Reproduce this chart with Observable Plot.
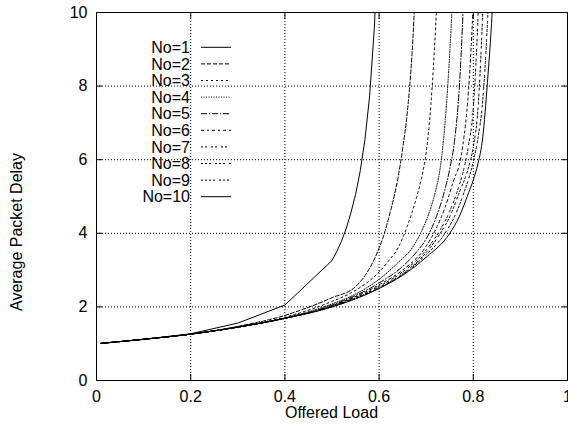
<!DOCTYPE html>
<html><head><meta charset="utf-8">
<script src="https://cdn.jsdelivr.net/npm/d3@7"></script>
<script src="https://cdn.jsdelivr.net/npm/@observablehq/plot@0.6"></script>
<style>
body{margin:0;background:#fff}
#wrap{position:relative;width:568px;height:424px;overflow:hidden}
#wrap svg{position:absolute;left:0;top:0}
</style>
</head><body><div id="wrap"></div>
<script>
const series = ["No=1","No=2","No=3","No=4","No=5","No=6","No=7","No=8","No=9","No=10"];
const xTicks = [0,0.2,0.4,0.6,0.8,1];
const xTickLabels = ["0","0.2","0.4","0.6","0.8","1"];
const yTicks = [0,2,4,6,8,10];
const yTickLabels = ["0","2","4","6","8","10"];
const xTitle = "Offered Load";
const yTitle = "Average Packet Delay";

const load1 = [0.01,0.1,0.2,0.3,0.4,0.5,0.51,0.52,0.53,0.54,0.55,0.56,0.57,0.58,0.59,0.6];
const delay1 = [1.01,1.12,1.27,1.56,2.05,3.26,3.5,3.78,4.12,4.55,5.05,5.7,6.55,7.75,9.6,12.5];
const load2 = [0.01,0.1,0.2,0.3,0.4,0.5,0.55,0.57,0.59,0.6,0.61,0.62,0.63,0.64,0.65,0.66,0.67,0.68];
const delay2 = [1.01,1.12,1.26,1.47,1.77,2.25,2.55,2.85,3.3,3.6,3.95,4.4,4.9,5.5,6.3,7.3,8.9,11.5];
const load3 = [0.01,0.1,0.2,0.3,0.4,0.5,0.55,0.6,0.62,0.64,0.66,0.68,0.69,0.7,0.71,0.72,0.73];
const delay3 = [1.01,1.12,1.26,1.46,1.72,2.15,2.45,2.95,3.25,3.6,4.2,5.0,5.5,6.2,7.5,9.6,12.5];
const load4 = [0.01,0.1,0.2,0.3,0.4,0.5,0.55,0.6,0.64,0.67,0.69,0.71,0.72,0.73,0.74,0.75,0.76];
const delay4 = [1.01,1.12,1.26,1.45,1.70,2.08,2.35,2.75,3.2,3.6,4.05,4.7,5.15,5.8,7.0,8.9,11.5];
const load5 = [0.01,0.1,0.2,0.3,0.4,0.5,0.6,0.65,0.68,0.7,0.72,0.74,0.75,0.76,0.77,0.78];
const delay5 = [1.01,1.12,1.26,1.45,1.69,2.05,2.65,3.1,3.5,3.85,4.4,5.2,5.75,6.5,7.9,10.5];
const load6 = [0.01,0.1,0.2,0.3,0.4,0.5,0.6,0.65,0.7,0.72,0.74,0.76,0.77,0.78,0.79,0.8,0.81];
const delay6 = [1.01,1.12,1.26,1.45,1.69,2.03,2.6,3.0,3.65,4.1,4.7,5.5,5.85,6.6,7.9,10.3,14];
const load7 = [0.01,0.1,0.2,0.3,0.4,0.5,0.6,0.65,0.7,0.73,0.75,0.77,0.78,0.79,0.8,0.81,0.82];
const delay7 = [1.01,1.12,1.26,1.45,1.69,2.02,2.56,2.95,3.55,4.1,4.6,5.3,5.75,6.4,7.4,9.9,14];
const load8 = [0.01,0.1,0.2,0.3,0.4,0.5,0.6,0.65,0.7,0.73,0.75,0.77,0.79,0.8,0.81,0.82,0.83];
const delay8 = [1.01,1.12,1.26,1.45,1.69,2.01,2.53,2.9,3.48,4.0,4.45,5.1,5.8,6.35,7.4,10.0,14];
const load9 = [0.01,0.1,0.2,0.3,0.4,0.5,0.6,0.65,0.7,0.74,0.76,0.78,0.8,0.81,0.82,0.83,0.84];
const delay9 = [1.01,1.12,1.26,1.45,1.69,2.0,2.51,2.88,3.42,4.0,4.45,5.1,5.95,6.6,7.6,9.7,13];
const load10 = [0.01,0.1,0.2,0.3,0.4,0.5,0.6,0.65,0.7,0.75,0.77,0.79,0.8,0.81,0.82,0.83,0.84,0.85];
const delay10 = [1.01,1.12,1.26,1.45,1.69,2.0,2.5,2.86,3.35,4.0,4.45,5.1,5.45,5.9,6.6,8.1,10.0,13];

const loads = [load1,load2,load3,load4,load5,load6,load7,load8,load9,load10];
const delays = [delay1,delay2,delay3,delay4,delay5,delay6,delay7,delay8,delay9,delay10];
const dashes = [null,"4,2","2,3","1,1.5","6,2,1,2","3,3,2,3","2,2,2,4","2,2,2,2,2,4","2,2,2,2,2,2,2,4",null];

const rows = [];
series.forEach((s,i) => loads[i].forEach((x,j) => rows.push({series:s, load:x, delay:delays[i][j]})));

const W = 568, H = 424, ML = 96, MR = 1, MT = 12, MB = 44;
const font = "'Liberation Sans', Arial, Helvetica, sans-serif";

const plot = Plot.plot({
  width: W, height: H,
  marginLeft: ML, marginRight: MR, marginTop: MT, marginBottom: MB,
  style: {fontFamily: font, fontSize: "16px", background: "#fff", color: "#000", overflow: "visible"},
  x: {domain: [0,1]},
  y: {domain: [0,10]},
  marks: [
    Plot.gridX(xTicks, {stroke: "#000", strokeOpacity: 1, strokeDasharray: "1,2"}),
    Plot.gridY(yTicks, {stroke: "#000", strokeOpacity: 1, strokeDasharray: "1,2"}),
    ...series.map((s,i) => Plot.line(rows.filter(r => r.series === s), {
      x: "load", y: "delay", stroke: "#000", strokeWidth: 1,
      curve: i === 0 ? "linear" : "monotone-x",
      strokeDasharray: dashes[i] || undefined, clip: true
    })),
    Plot.frame({stroke: "#000"}),
    Plot.axisX(xTicks, {anchor: "bottom", tickSize: -6, tickPadding: 16, tickFormat: (d,i) => xTickLabels[i], label: null}),
    Plot.axisX(xTicks, {anchor: "top", tickSize: -6, tickFormat: () => "", label: null}),
    Plot.axisY(yTicks, {anchor: "left", tickSize: -6, tickPadding: 15, tickFormat: (d,i) => yTickLabels[i], label: null}),
    Plot.axisY(yTicks, {anchor: "right", tickSize: -6, tickFormat: () => "", label: null})
  ]
});
const wrap = document.getElementById("wrap");
wrap.appendChild(plot);

// overlay: titles and legend
const svg = d3.select(wrap).append("svg").attr("width", W).attr("height", H)
  .style("pointer-events","none").attr("font-family", font).attr("font-size", 16);
svg.append("text").attr("x", ML + (W - ML - MR)/2).attr("y", 418).attr("text-anchor","middle").text(xTitle);
svg.append("text").attr("transform", "translate(22,232) rotate(-90)").attr("text-anchor","middle").text(yTitle);

const lg = svg.append("g");
series.forEach((s,i) => {
  const cy = 47.3 + 16.6*i;
  lg.append("text").attr("x", 190).attr("y", cy + 5.7).attr("text-anchor","end").text(s);
  const l = lg.append("line").attr("x1", 201).attr("x2", 231).attr("y1", cy).attr("y2", cy)
    .attr("stroke","#000").attr("stroke-width",1);
  if (dashes[i]) l.attr("stroke-dasharray", dashes[i]);
});
</script>
</body></html>
